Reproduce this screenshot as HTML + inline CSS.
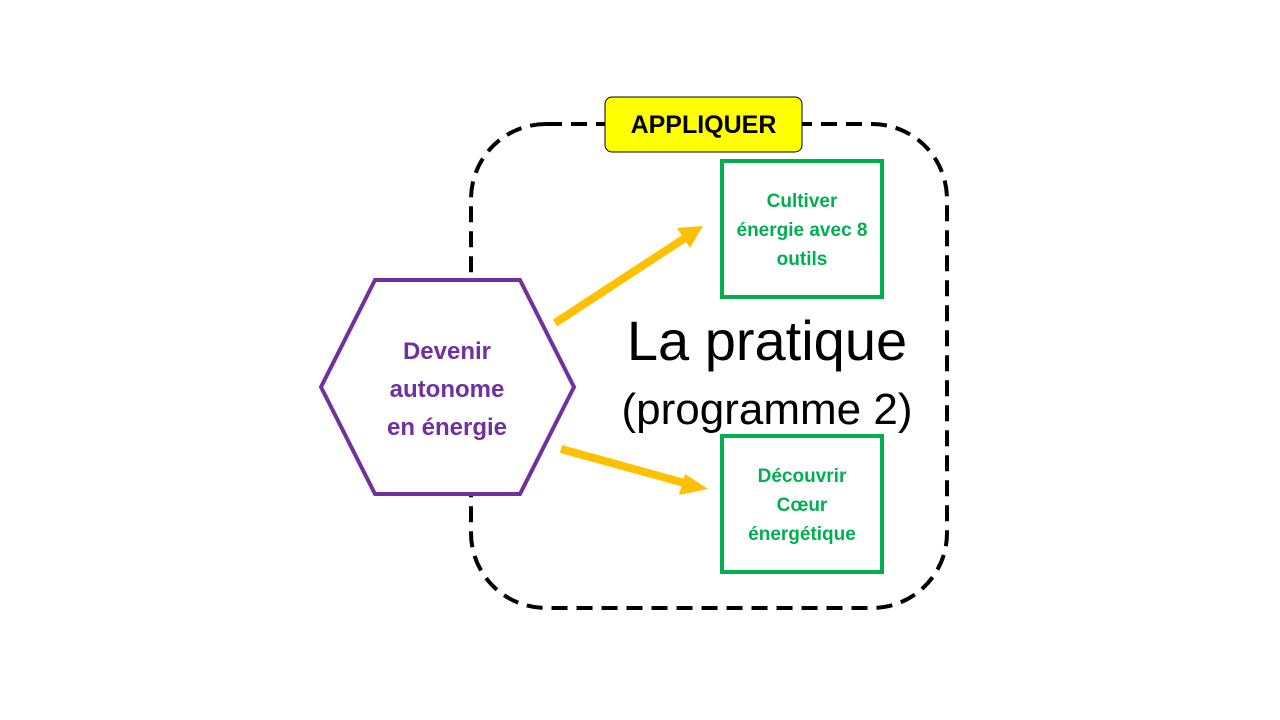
<!DOCTYPE html>
<html><head><meta charset="utf-8"><style>
html,body{margin:0;padding:0;background:#fff;}
svg{display:block;}
text{font-family:"Liberation Sans","DejaVu Sans",sans-serif;}
</style></head><body>
<svg width="1280" height="720" viewBox="0 0 1280 720" xmlns="http://www.w3.org/2000/svg">
<rect x="471" y="124" width="476" height="484" rx="75" ry="75" fill="none" stroke="#000" stroke-width="4" stroke-dasharray="16,9"/>
<rect x="605" y="97" width="197" height="55" rx="7" fill="#ffff00" stroke="#000" stroke-width="1"/>
<text x="703.5" y="133" text-anchor="middle" font-size="25" font-weight="bold" fill="#000">APPLIQUER</text>
<polygon points="321,387 375,280 520,280 574,387 520,494 375,494" fill="#fff" stroke="#7030a0" stroke-width="4"/>
<g fill="#7030a0" font-size="24" font-weight="bold" text-anchor="middle">
<text x="447" y="359">Devenir</text>
<text x="447" y="397">autonome</text>
<text x="447" y="435">en énergie</text>
</g>
<rect x="722" y="161" width="160" height="136" fill="#fff" stroke="#00b050" stroke-width="4"/>
<rect x="722" y="436" width="160" height="136" fill="#fff" stroke="#00b050" stroke-width="4"/>
<g fill="#00b050" font-size="19" font-weight="bold" text-anchor="middle">
<text x="802" y="207">Cultiver</text>
<text x="802" y="236">énergie avec 8</text>
<text x="802" y="265">outils</text>
<text x="802" y="482">Découvrir</text>
<text x="802" y="511">Cœur</text>
<text x="802" y="540">énergétique</text>
</g>
<text x="767" y="360" text-anchor="middle" font-size="56" fill="#000">La pratique</text>
<text x="767" y="424" text-anchor="middle" font-size="44" fill="#000">(programme 2)</text>
<g stroke="#ffc000" stroke-width="8" fill="#ffc000">
<line x1="555" y1="323" x2="685" y2="238"/>
<line x1="561" y1="449" x2="688" y2="484"/>
</g>
<polygon points="703,226 677,228 690,248" fill="#ffc000"/>
<polygon points="708,489 685,474 679,495" fill="#ffc000"/>
</svg>
</body></html>
